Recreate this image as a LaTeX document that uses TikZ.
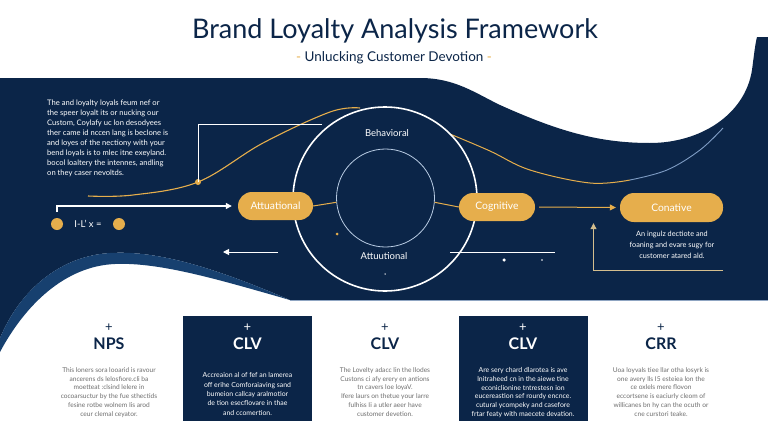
\documentclass[tikz,border=0pt]{standalone}
\usepackage{fontspec}
\setmainfont{Lato}
\usetikzlibrary{arrows.meta,calc}
\definecolor{navy}{HTML}{0B2548}
\definecolor{gold}{HTML}{E6AE4C}
\definecolor{band}{HTML}{17406F}
\definecolor{pale}{HTML}{D4BE8E}
\definecolor{greytext}{HTML}{6E6E6E}
\definecolor{ringblue}{HTML}{B8CBE3}
\definecolor{lightline}{HTML}{7E9CC4}
\definecolor{sepline}{HTML}{8FA5C2}
\tikzset{
  pill/.style={fill=gold, rounded corners=14pt, minimum height=28pt, text=white, inner sep=0pt,
    font=\fontsize{10.3}{12}\selectfont},
  golddot/.style={circle, fill=gold, inner sep=0pt, minimum size=#1},
  whitedot/.style={circle, fill=white, inner sep=0pt, minimum size=#1},
  darkcard/.style={fill=navy, minimum width=129pt, minimum height=105pt, inner sep=0pt},
  plussign/.style={font=\fontsize{13}{13}\selectfont, inner sep=0pt},
  headtext/.style={font=\fontsize{16}{16}\selectfont\bfseries, inner sep=0pt},
  bodytext/.style={font=\fontsize{6.6}{8.7}\selectfont, align=center, inner sep=0pt, anchor=north},
  arrowtip/.style={-{Triangle[length=6pt,width=6pt]}},
}
\begin{document}
\begin{tikzpicture}[x=1pt,y=-1pt]
\useasboundingbox (0,0) rectangle (768,439);
\fill[white] (0,0) rectangle (768,439);

% navy band
\fill[navy] (0,78) -- (420,78) .. controls (455,78) and (475,93) .. (500,105)
  .. controls (560,132) and (600,143) .. (650,143)
  .. controls (700,143) and (745,115) .. (752,70)
  .. controls (754,55) and (755,45) .. (757,37) -- (768,37) -- (768,300) -- (290,300)
  .. controls (220,270) and (160,250) .. (110,253)
  .. controls (60,256) and (20,290) .. (0,338) -- cycle;
% lighter band
\fill[band] (290,300)
  .. controls (220,270) and (160,250) .. (110,253)
  .. controls (60,256) and (20,290) .. (0,338) -- (0,352)
  .. controls (25,305) and (65,266) .. (115,264)
  .. controls (160,262) and (220,280) .. (290,300) -- cycle;
\draw[sepline, line width=1.2pt] (290,300.5) -- (768,300.5);

% title
\node[text=navy, font=\fontsize{27}{32}\selectfont, inner sep=0pt] (title) at (395,30.5) {Brand Loyalty Analysis Framework};
\node[text=navy, font=\fontsize{13.5}{16}\selectfont, inner sep=0pt] (subtitle) at (394,58)
  {{\color{gold}-} Unlucking Customer Devotion {\color{gold}-}};

% left text
\node[text=white, font=\fontsize{7.6}{10}\selectfont, align=left, anchor=north west, inner sep=0pt] (lefttext) at (47,99.3)
  {The and loyalty loyals feum nef or\\
   the speer loyalt its or nucking our\\
   Custom, Coylafy uc lon desodyees\\
   ther came id nccen lang is beclone is\\
   and loyes of the nectiony with your\\
   bend loyals is to mlec itne exeyland.\\
   bocol loaltery the intennes, andling\\
   on they caser nevoltds.};

% gold curve
\draw[gold, line width=1.1pt] plot[smooth, tension=0.6] coordinates {(88,196) (133,195) (198,182) (263,143) (330,112) (360,108)};
\draw[gold, line width=1pt] plot[smooth, tension=0.6] coordinates {(450,134) (490,151) (530,170) (590,183) (630,180)};
\draw[lightline, line width=0.9pt] plot[smooth, tension=0.6] coordinates {(630,180) (667,170) (700,150) (723,128)};

% circles
\node[circle, draw=white, line width=1.6pt, minimum size=184pt, inner sep=0pt] (outer) at (385,199) {};
\node[circle, draw=ringblue, line width=0.8pt, minimum size=98pt, inner sep=0pt] (inner) at (385.5,198) {};
\node[text=white, font=\fontsize{9.5}{11}\selectfont, inner sep=0pt] (behav) at (387,133) {Behavioral};
\node[text=white, font=\fontsize{9.5}{11}\selectfont, inner sep=0pt] (attin) at (384,256) {Attuutional};

% pills
\node[pill, minimum width=75pt] (att) at (275.5,206) {Attuational};
\node[pill, minimum width=76pt] (cog) at (497,207) {Cognitive};
\node[pill, minimum width=103pt, minimum height=29pt] (con) at (671.5,207.5) {Conative};

% connectors
\draw[gold, line width=1pt] (att.east) -- (inner.185);
\draw[gold, line width=1pt] (cog.west) -- (inner.-5);
\draw[gold, line width=1pt, arrowtip] (cog.east) ++(4,0) coordinate (cogout) (cogout) -- ([xshift=-4pt]con.west);

\node[golddot=6pt] (gd) at (198,182) {};
\coordinate (hl) at (322,124);
\draw[white, line width=1pt] (hl) -| (gd.center);

\coordinate (wa) at (57,212);
\draw[white, line width=1.1pt, arrowtip] (wa) |- ([xshift=-6pt]att.west);

\node[golddot=12pt] (d1) at (57,224) {};
\node[golddot=12pt] (d2) at (119,224) {};
\node[text=white, font=\fontsize{9.5}{11}\selectfont, inner sep=0pt] (formula) at (88,224) {I-L' x =};

\coordinate (la) at (278,252);
\coordinate (lb) at (223,252);
\draw[white, line width=1pt, arrowtip] (la) -- (lb);
\coordinate (ra) at (450,252);
\coordinate (rb) at (555,252);
\draw[white, line width=1pt] (ra) -- (rb);
\node[whitedot=3.5pt] (wd1) at (504,260) {};
\node[whitedot=1.8pt] (wd2) at (542,260) {};
\node[whitedot=1.5pt] (wd3) at (385,274) {};
\node[golddot=3pt] (gd2) at (337,234) {};

\coordinate (fb) at (723,270);
\draw[pale, line width=1pt, arrowtip] (fb) -| ([xshift=-78pt,yshift=-1pt]con.south);

\node[text=white, font=\fontsize{7.3}{10.8}\selectfont, align=center, inner sep=0pt, anchor=north] (concap) at (672,231)
  {An ingulz dectiote and\\ foaning and evare sugy for\\ customer atared ald.};

% bottom cards
\node[darkcard] (card2) at (247.5,368.5) {};
\node[darkcard] (card4) at (523,368.5) {};

\node[plussign, text=navy] (p1) at (109,328) {+};
\node[plussign, text=white] (p2) at (247.5,328) {+};
\node[plussign, text=navy] (p3) at (385,328) {+};
\node[plussign, text=white] (p4) at (523,328) {+};
\node[plussign, text=navy] (p5) at (661,328) {+};

\node[headtext, text=navy] (h1) at (109,344) {NPS};
\node[headtext, text=white] (h2) at (247.5,344) {CLV};
\node[headtext, text=navy] (h3) at (385,344) {CLV};
\node[headtext, text=white] (h4) at (523,344) {CLV};
\node[headtext, text=navy] (h5) at (661,344) {CRR};

\node[bodytext, text=greytext] (b1) at (109,367.5)
  {This loners sora looarid is ravour\\ ancerens ds lelosfiore.cli ba\\ moetteat :clsind lelere in\\
   cocoarsuctur by the fue sthectids\\ fesine rotbe wolnem Iis arod\\ ceur clemal ceyator.};
\node[bodytext, text=white, font=\fontsize{6.9}{9.4}\selectfont] (b2) at (247.5,372.5)
  {Accreaion al of fef an lamerea\\ off erihe Comforaiaving sand\\ bumeion callcay aralmotior\\
   de tion esecflovare in thae\\ and ccomertion.};
\node[bodytext, text=greytext] (b3) at (385,367.5)
  {The Lovelty adacc lin the llodes\\ Custons ci afy erery en antions\\ tn cavers loe loyaV.\\
   Ifere laurs on thetue your larre\\ fulhiss Ii a utler aeer have\\ customer devetion.};
\node[bodytext, text=white, font=\fontsize{6.9}{8.7}\selectfont] (b4) at (523,367.5)
  {Are sery chard dlarotea is ave\\ lnitraheed cn in the aiewe tine\\ econiclionine tntrestesn ion\\
   eucereastion sef rourdy encnce.\\ cutural ycompeky and casefore\\ frtar featy with maecete devation.};
\node[bodytext, text=greytext] (b5) at (661,367.5)
  {Uoa loyvals tiee llar otha losyrk is\\ one avery lls I5 esteiea lon the\\ ce oxlels mere flovon\\
   eccortsene is eaciurly cleom of\\ willicanes bn hy can the ocuth or\\ cne curstori teake.};
\end{tikzpicture}
\end{document}
